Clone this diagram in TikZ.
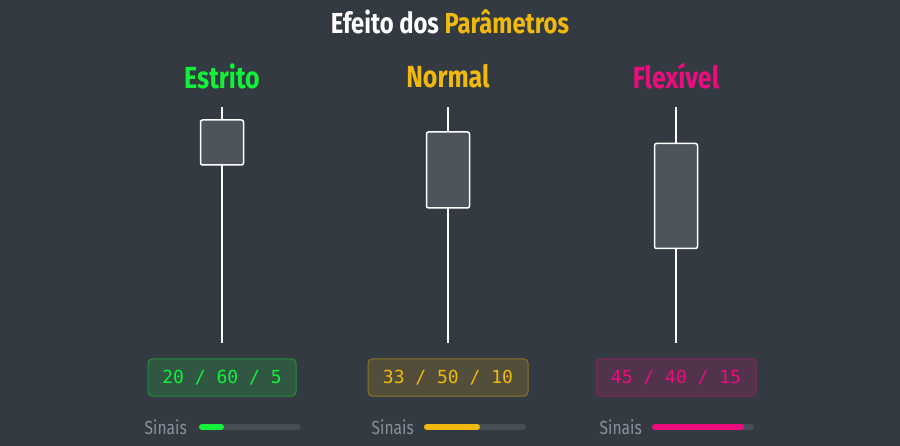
\documentclass[tikz,border=0pt]{standalone}
\usepackage{fontspec}
\setmainfont{Fira Sans}[FakeStretch=0.82]
\setmonofont{DejaVu Sans Mono}
\usetikzlibrary{positioning}
\definecolor{bgdark}{HTML}{343A42}
\definecolor{estr}{HTML}{12F03A}
\definecolor{norm}{HTML}{F0B90B}
\definecolor{flex}{HTML}{EC0C7E}
\definecolor{bodyfill}{HTML}{4D545C}
\definecolor{sinaisgray}{HTML}{89919A}
\definecolor{trackgray}{HTML}{474D55}
\begin{document}
\begin{tikzpicture}[x=1pt,y=-1pt]
	\tikzstyle{heading} = [font=\bfseries\fontsize{30.5}{34}\selectfont,inner sep=0pt]
	\tikzstyle{candle} = [draw=white,line width=1.5pt,fill=bodyfill,rounded corners=2pt,minimum width=43pt,inner sep=0pt]
	\tikzstyle{wick} = [draw=white,line width=2pt]
	\tikzstyle{valbox} = [rounded corners=4pt,line width=1pt,minimum height=37pt,inner sep=0pt,font=\ttfamily\fontsize{18}{20}\selectfont]
	\tikzstyle{sinais} = [text=sinaisgray,font=\fontsize{19}{22}\selectfont,inner sep=0pt]
	\tikzstyle{track} = [draw=trackgray,line width=6pt,line cap=round]
	\tikzstyle{bar} = [line width=6pt,line cap=round]
	
		\fill[bgdark] (0,0) rectangle (900,446);
		\useasboundingbox (0,0) rectangle (900,446);
		
		\node[font=\bfseries\fontsize{29}{33}\selectfont,text=white,inner sep=0pt] (title) at (450,22) {Efeito dos \textcolor{norm}{Parâmetros}};
		
		\node[heading,text=estr] (h1) at (222,76) {Estrito};
		\node[heading,text=norm] (h2) at (448,76) {Normal};
		\node[heading,text=flex] (h3) at (676,76) {Flexível};
		
		% candles
		\coordinate (t1) at (222,107);
		\coordinate (l1) at (222,343);
		\coordinate (t2) at (448,107);
		\coordinate (l2) at (448,343);
		\coordinate (t3) at (676,107);
		\coordinate (l3) at (676,343);
		\draw[wick] (t1) -- (l1);
		\draw[wick] (t2) -- (l2);
		\draw[wick] (t3) -- (l3);
		\node[candle,minimum height=45pt] (c1) at (222,142.5){};
		\node[candle,minimum height=76pt] (c2) at (448,170){};
		\node[candle,minimum height=105pt] (c3) at (676,196){};
		
		% values
		\node[valbox,minimum width=148pt,draw=estr!45!bgdark,fill=estr!16!bgdark,text=estr] (v1) at (222,377.5){20 / 60 / 5};
		\node[valbox,minimum width=160pt,draw=norm!45!bgdark,fill=norm!16!bgdark,text=norm] (v2) at (448,377.5){33 / 50 / 10};
		\node[valbox,minimum width=160pt,draw=flex!45!bgdark,fill=flex!16!bgdark,text=flex] (v3) at (676,377.5){45 / 40 / 15};
		
		% signal bars
		\node[sinais,anchor=east] (s1) at (187,427){Sinais};
		\node[sinais,anchor=east] (s2) at (414,427){Sinais};
		\node[sinais,anchor=east] (s3) at (642,427){Sinais};
		\coordinate (k1) at (202,427);
		\coordinate (e1) at (298,427);
		\coordinate (f1) at (221,427);
		\coordinate (k2) at (427,427);
		\coordinate (e2) at (523,427);
		\coordinate (f2) at (477,427);
		\coordinate (k3) at (655,427);
		\coordinate (e3) at (751,427);
		\coordinate (f3) at (741,427);
		\draw[track] (k1) -- (e1);
		\draw[track] (k2) -- (e2);
		\draw[track] (k3) -- (e3);
		\draw[bar,estr] (k1) -- (f1);
		\draw[bar,norm] (k2) -- (f2);
		\draw[bar,flex] (k3) -- (f3);
		
\end{tikzpicture}
\end{document}
